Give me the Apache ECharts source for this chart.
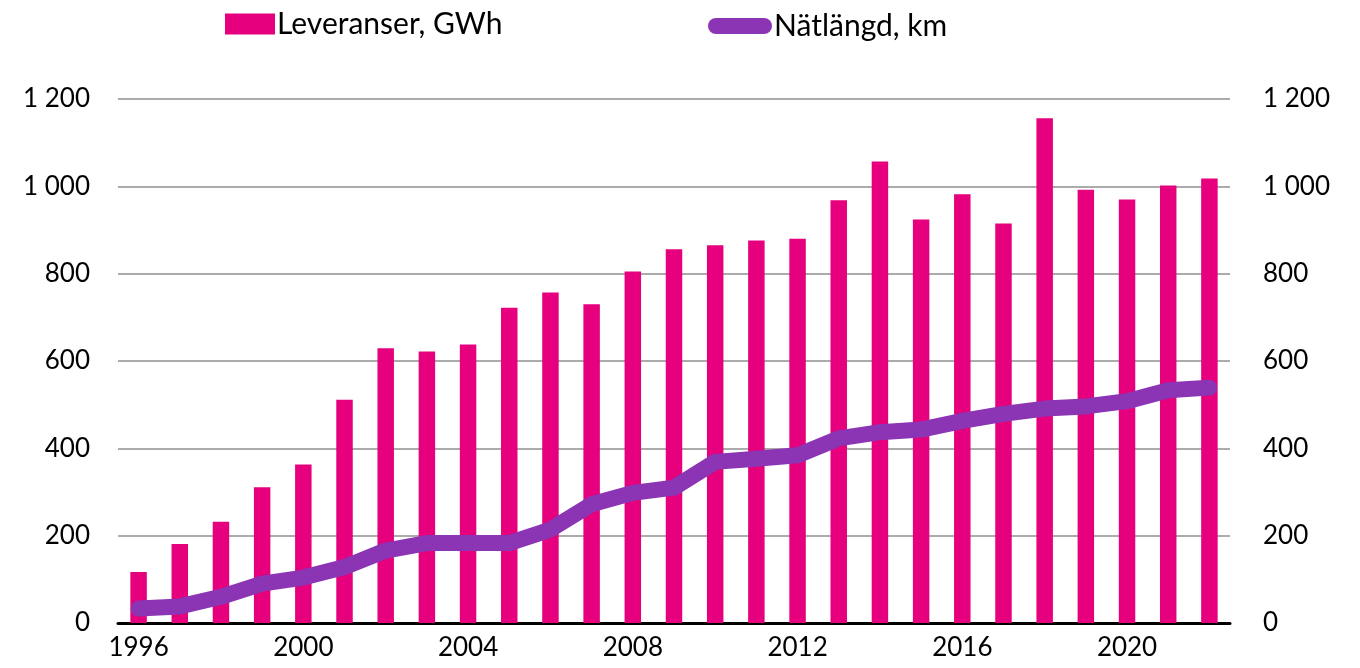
<!DOCTYPE html>
<html>
<head>
<meta charset="utf-8">
<title>Leveranser och nätlängd</title>
<script src="https://cdn.jsdelivr.net/npm/echarts@6/dist/echarts.min.js"></script>
<style>
  html, body { margin: 0; padding: 0; background: #fff; }
  #chart { width: 1360px; height: 668px; }
</style>
</head>
<body>
<div id="chart"></div>
<script>
// Years on the category axis
const years = ['1996','1997','1998','1999','2000','2001','2002','2003','2004','2005','2006','2007','2008','2009',
               '2010','2011','2012','2013','2014','2015','2016','2017','2018','2019','2020','2021','2022'];

// Deliveries, GWh (bars, left axis)
const leveranser = [117, 181, 232, 311, 363, 511, 629, 622, 638, 722, 757, 730, 805, 856,
                    865, 876, 880, 968, 1057, 924, 982, 915, 1156, 992, 970, 1002, 1018];

// Network length, km (line, right axis)
const natlangd = [33, 38, 60, 90, 104, 128, 166, 183, 183, 183, 214, 272, 298, 310,
                  369, 376, 384, 423, 437, 443, 463, 479, 491, 496, 508, 533, 539];

const barName = 'Leveranser, GWh';
const lineName = 'Nätlängd, km';
const fontFamily = 'Lato, "Open Sans", sans-serif';

// "1 200" style thousands separator
const fmt = v => String(v).replace(/\B(?=(\d{3})+(?!\d))/g, ' ');

const chart = echarts.init(document.getElementById('chart'));
chart.setOption({
  animation: false,
  textStyle: { fontFamily: fontFamily, color: '#000' },
  legend: [
    {
      left: 220, top: 4,
      itemWidth: 50, itemHeight: 21, itemGap: 0,
      textStyle: { fontSize: 30, color: '#000', fontFamily: fontFamily, padding: [0, 0, 0, -3] },
      data: [{ name: barName, icon: 'rect' }]
    },
    {
      left: 703, top: 6,
      itemWidth: 64, itemHeight: 17, itemGap: 0,
      textStyle: { fontSize: 30, color: '#000', fontFamily: fontFamily, padding: [0, 0, 0, -3] },
      data: [{ name: lineName, icon: 'path://M8,0 L56,0 A8,8 0 0 1 56,16 L8,16 A8,8 0 0 1 8,0 Z' }]
    }
  ],
  grid: { left: 118, right: 130, top: 99, bottom: 45, containLabel: false },
  xAxis: {
    type: 'category',
    data: years,
    axisLine: { lineStyle: { color: '#000', width: 3 } },
    axisTick: { show: false },
    axisLabel: { interval: 3, fontSize: 26, color: '#000', margin: 12 }
  },
  yAxis: [
    {
      type: 'value', min: 0, max: 1200, interval: 200,
      axisLine: { show: false }, axisTick: { show: false },
      axisLabel: { fontSize: 26, color: '#000', margin: 28, formatter: fmt },
      splitLine: { lineStyle: { color: '#ababab', width: 2 } }
    },
    {
      type: 'value', min: 0, max: 1200, interval: 200,
      axisLine: { show: false }, axisTick: { show: false },
      axisLabel: { fontSize: 26, color: '#000', margin: 33, formatter: fmt },
      splitLine: { show: false }
    }
  ],
  series: [
    {
      name: barName,
      type: 'bar',
      yAxisIndex: 0,
      data: leveranser,
      barWidth: '40%',
      itemStyle: { color: '#e6007e' }
    },
    {
      name: lineName,
      type: 'line',
      yAxisIndex: 1,
      data: natlangd,
      symbol: 'none',
      smooth: false,
      lineStyle: { color: '#8b35b5', width: 16, cap: 'round', join: 'round' },
      itemStyle: { color: '#8b35b5' },
      z: 3
    }
  ]
});
</script>
</body>
</html>
